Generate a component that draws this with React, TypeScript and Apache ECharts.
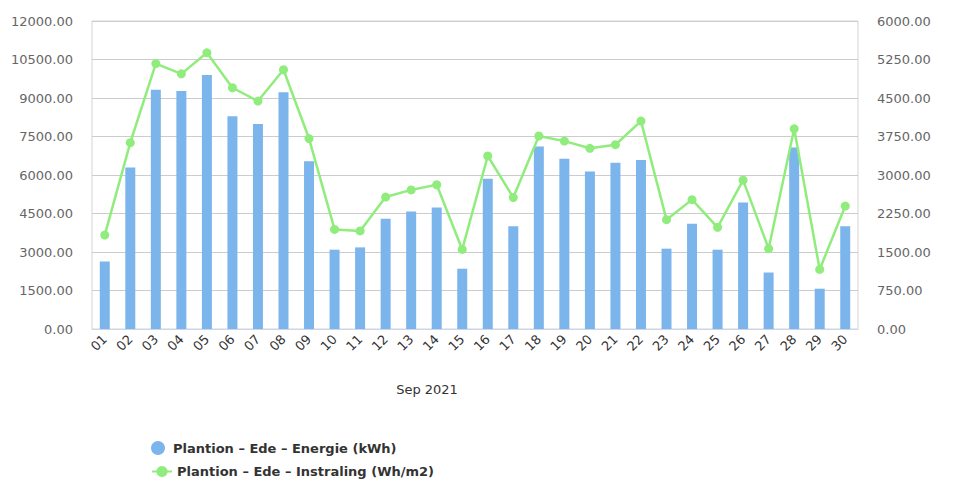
import React, { useEffect, useRef } from "react";
import * as echarts from "echarts";

const days = ["01","02","03","04","05","06","07","08","09","10","11","12","13","14","15","16","17","18","19","20","21","22","23","24","25","26","27","28","29","30"];
const energie = [2630, 6290, 9320, 9270, 9900, 8290, 7990, 9220, 6540, 3090, 3180, 4300, 4580, 4730, 2350, 5850, 4000, 7110, 6630, 6140, 6480, 6580, 3130, 4100, 3090, 4930, 2200, 7070, 1570, 4000];
const instraling = [1830, 3630, 5170, 4970, 5380, 4700, 4440, 5050, 3710, 1940, 1910, 2570, 2710, 2810, 1550, 3370, 2560, 3760, 3660, 3520, 3590, 4050, 2130, 2520, 1980, 2900, 1565, 3900, 1160, 2395];
const leftTicks = { min: 0, max: 12000, interval: 1500 };
const rightTicks = { min: 0, max: 6000, interval: 750 };
const nameEnergie = "Plantion – Ede – Energie (kWh)";
const nameInstraling = "Plantion – Ede – Instraling (Wh/m2)";
const axisTitle = "Sep 2021";

const FONT = "DejaVu Sans";

export default function App() {
  const ref = useRef<HTMLDivElement>(null);
  useEffect(() => {
    document.body.style.margin = "0";
    const chart = echarts.init(ref.current!, null, { renderer: "svg" });
    const legendText = { fontFamily: FONT, fontSize: 13, fontWeight: "bold", color: "#333333" };
    chart.setOption({
      animation: false,
      backgroundColor: "#ffffff",
      grid: { left: 92, right: 107, top: 21, bottom: 158, show: true, borderColor: "#d4d4d4", borderWidth: 1 },
      legend: [
        {
          left: 146,
          top: 436,
          itemWidth: 20,
          itemHeight: 14,
          textStyle: legendText,
          data: [{ name: nameEnergie, icon: "circle" }],
        },
        {
          left: 146,
          top: 460,
          itemWidth: 20,
          itemHeight: 14,
          textStyle: legendText,
          data: [{ name: nameInstraling }],
        },
      ],
      graphic: [
        {
          type: "text",
          x: 427,
          y: 389,
          style: { text: axisTitle, fontFamily: FONT, fontSize: 13, fill: "#333333", textAlign: "center", textVerticalAlign: "middle" },
        },
      ],
      xAxis: {
        type: "category",
        data: days,
        axisLine: { lineStyle: { color: "#ccd6eb" } },
        axisTick: { show: false },
        axisLabel: { rotate: 45, fontFamily: FONT, fontSize: 13, color: "#333333", margin: 8, interval: 0 },
      },
      yAxis: [
        {
          type: "value",
          ...leftTicks,
          axisLine: { show: false },
          axisTick: { show: false },
          splitLine: { lineStyle: { color: "#cccccc" } },
          axisLabel: { fontFamily: FONT, fontSize: 13, color: "#666666", margin: 19, formatter: (v: number) => v.toFixed(2) },
        },
        {
          type: "value",
          ...rightTicks,
          axisLine: { show: false },
          axisTick: { show: false },
          splitLine: { show: false },
          axisLabel: { fontFamily: FONT, fontSize: 13, color: "#666666", margin: 19, formatter: (v: number) => v.toFixed(2) },
        },
      ],
      series: [
        {
          name: nameEnergie,
          type: "bar",
          data: energie,
          yAxisIndex: 0,
          barWidth: 10,
          itemStyle: { color: "#7cb5ec" },
        },
        {
          name: nameInstraling,
          type: "line",
          data: instraling,
          yAxisIndex: 1,
          symbol: "circle",
          symbolSize: 9,
          lineStyle: { color: "#90ed7d", width: 2.5 },
          itemStyle: { color: "#90ed7d" },
        },
      ],
    });
    return () => chart.dispose();
  }, []);
  return <div ref={ref} style={{ width: 965, height: 487 }} />;
}
